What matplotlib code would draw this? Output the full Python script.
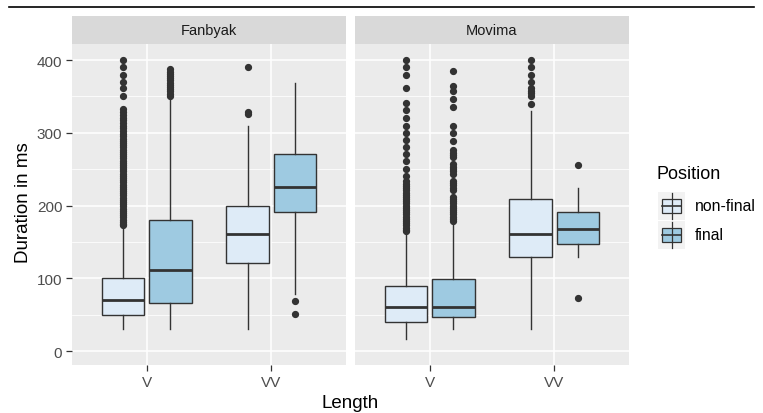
import numpy as np
import matplotlib
matplotlib.use("Agg")
import matplotlib.pyplot as plt
from matplotlib.patches import Rectangle
from matplotlib.lines import Line2D

plt.rcParams['font.family'] = ['Liberation Sans', 'DejaVu Sans']

# data (ms)
languages = ["Fanbyak", "Movima"]
lengths = ["V", "VV"]
positions_lab = ["non-final", "final"]

# order: [V non-final, V final, VV non-final, VV final]
fan_q1 = [50, 67, 121, 191]
fan_med = [70, 112, 161, 226]
fan_q3 = [100, 180, 200, 271]
fan_lo = [31, 31, 31, 79]
fan_hi = [172, 349, 310, 368]
fan_fliers = [
    [400, 390, 380, 370, 361, 351, 333, 329, 325, 321, 318, 314, 310, 306,
     302, 298, 295, 292, 289, 286, 283, 280, 277, 274, 271, 268, 265, 262,
     259, 256, 253, 250, 247, 244, 241, 238, 235, 232, 229, 226, 223, 220,
     217, 214, 211, 208, 205, 202, 199, 196, 193, 190, 187, 184, 181, 178,
     175, 173],
    [387, 384, 381, 378, 375, 372, 369, 366, 363, 360, 357, 354, 351],
    [390, 328, 326],
    [69, 51],
]

mov_q1 = [40, 47, 129, 147]
mov_med = [61, 61, 161, 168]
mov_q3 = [89, 99, 209, 191]
mov_lo = [17, 31, 31, 130]
mov_hi = [163, 177, 330, 224]
mov_fliers = [
    [400, 390, 380, 361, 341, 331, 321, 310, 300, 290, 280, 271, 262, 250,
     241, 234, 230, 227, 224, 221, 218, 215, 212, 209, 206, 203, 200, 197,
     194, 191, 188, 185, 182, 179, 176, 173, 170, 167, 165],
    [385, 365, 358, 347, 335, 310, 300, 289, 276, 273, 270, 267, 257, 253,
     250, 247, 243, 234, 231, 228, 224, 221, 212, 209, 206, 203, 200, 197,
     194, 191, 188, 185, 182, 179],
    [400, 390, 380, 370, 362, 358, 355, 351, 340],
    [256, 73],
]

fills = ["#DEEBF7", "#9ECAE1"]
edge = "#333333"
W, H = 763, 414

fig = plt.figure(figsize=(W / 100, H / 100), dpi=100)

# top rule of the screenshot
fig.add_artist(Line2D([9 / W, 754 / W], [1 - 8 / H, 1 - 8 / H],
                      color="black", lw=1.2))

panels = [(72, 346), (355, 629)]
ptop, pbot = 45, 366
strip_top = 17

data = [(fan_q1, fan_med, fan_q3, fan_lo, fan_hi, fan_fliers),
        (mov_q1, mov_med, mov_q3, mov_lo, mov_hi, mov_fliers)]

for k, (x0, x1) in enumerate(panels):
    ax = fig.add_axes([x0 / W, 1 - pbot / H, (x1 - x0) / W, (pbot - ptop) / H])
    ax.set_facecolor("#EBEBEB")
    ax.set_xlim(0.4, 2.6)
    ax.set_ylim(-18.8, 422)
    for s in ax.spines.values():
        s.set_visible(False)
    for v in [50, 150, 250, 350]:
        ax.axhline(v, color="white", lw=0.55, zorder=0)
    for v in [0, 100, 200, 300, 400]:
        ax.axhline(v, color="white", lw=1.1, zorder=0)
    for v in [1, 2]:
        ax.axvline(v, color="white", lw=1.1, zorder=0)

    q1, med, q3, lo, hi, fl = data[k]
    stats, pos, cols = [], [], []
    for i in range(4):
        stats.append(dict(q1=q1[i], med=med[i], q3=q3[i], whislo=lo[i],
                          whishi=hi[i], fliers=fl[i]))
        pos.append(1 + i // 2 + (-0.19 if i % 2 == 0 else 0.19))
        cols.append(fills[i % 2])
    bp = ax.bxp(stats, positions=pos, widths=0.343, patch_artist=True,
                showcaps=False,
                boxprops=dict(edgecolor=edge, linewidth=1.0),
                whiskerprops=dict(color=edge, linewidth=1.0),
                medianprops=dict(color=edge, linewidth=2.0),
                flierprops=dict(marker="o", markerfacecolor=edge,
                                markeredgecolor=edge, markersize=4.2))
    for b, c in zip(bp["boxes"], cols):
        b.set_facecolor(c)
    for m in bp["medians"]:
        m.set_solid_capstyle("butt")

    ax.set_xticks([1, 2])
    ax.set_xticklabels(lengths)
    ax.set_yticks([0, 100, 200, 300, 400])
    ax.tick_params(colors="#333333", labelcolor="#4D4D4D", labelsize=11,
                   length=4, width=0.9, pad=3)
    if k == 1:
        ax.tick_params(axis="y", left=False, labelleft=False)

    # facet strip
    sax = fig.add_axes([x0 / W, 1 - ptop / H, (x1 - x0) / W, (ptop - strip_top) / H])
    sax.set_facecolor("#D9D9D9")
    sax.set_xticks([])
    sax.set_yticks([])
    for s in sax.spines.values():
        s.set_visible(False)
    sax.text(0.5, 0.5, languages[k], ha="center", va="center",
             fontsize=10.5, color="#1A1A1A", transform=sax.transAxes)

fig.text(350 / W, 1 - 404 / H, "Length", ha="center", va="center", fontsize=13.5)
fig.text(24 / W, 1 - 203 / H, "Duration in ms", ha="center", va="center",
         rotation=90, fontsize=13.5)

# legend drawn by hand, ggplot style
fig.text(657 / W, 1 - 175 / H, "Position", ha="left", va="center", fontsize=13)
lax = fig.add_axes([0, 0, 1, 1])
lax.set_xlim(0, W)
lax.set_ylim(H, 0)
lax.axis("off")
lax.patch.set_alpha(0)
for j, lab in enumerate(positions_lab):
    ky = 193 + j * 29
    lax.add_patch(Rectangle((658, ky), 27, 28, facecolor="#F2F2F2",
                            edgecolor="none"))
    cy = ky + 14
    lax.plot([671.5, 671.5], [ky + 1, ky + 27], color=edge, lw=0.9)
    lax.add_patch(Rectangle((662, cy - 7), 19, 14, facecolor=fills[j],
                            edgecolor=edge, lw=0.9))
    lax.plot([662, 681], [cy, cy], color=edge, lw=1.2)
    lax.text(695, cy, lab, ha="left", va="center", fontsize=11.3, color="black")

fig.savefig("out.png", dpi=100)
